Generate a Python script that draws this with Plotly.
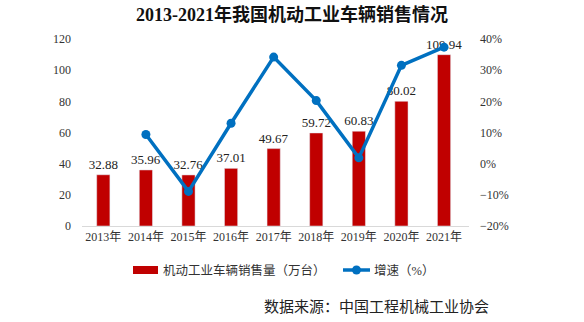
import plotly.graph_objects as go

years = ["2013年", "2014年", "2015年", "2016年", "2017年", "2018年", "2019年", "2020年", "2021年"]
sales = [32.88, 35.96, 32.76, 37.01, 49.67, 59.72, 60.83, 80.02, 109.94]
growth_years = ["2014年", "2015年", "2016年", "2017年", "2018年", "2019年", "2020年", "2021年"]
growth = [9.37, -8.90, 12.97, 34.20, 20.23, 1.86, 31.55, 37.39]
bar_name = "机动工业车辆销售量（万台）"
line_name = "增速（%）"

RED = "#C00000"
BLUE = "#0070C0"
serif = "Liberation Serif, Times New Roman, Noto Sans CJK SC, serif"

fig = go.Figure()
fig.add_trace(go.Bar(
    x=years, y=sales, name=bar_name,
    marker=dict(color=RED), width=0.31,
    text=[f"{v:.2f}" for v in sales], textposition="outside", constraintext="none",
    textfont=dict(family=serif, size=13, color="#222"), cliponaxis=False,
))
fig.add_trace(go.Scatter(
    x=growth_years, y=growth, name=line_name, yaxis="y2",
    mode="lines+markers", line=dict(color=BLUE, width=3.5),
    marker=dict(color=BLUE, size=9),
))

# plot area: x 82..469 px, y 39..226 px
def px(x):
    return (x - 82) / 387.0

def py(y):
    return (226 - y) / 187.0

shapes = [
    dict(type="rect", xref="paper", yref="paper", x0=px(133), x1=px(158), y0=py(274), y1=py(266),
         fillcolor=RED, line=dict(width=0)),
    dict(type="line", xref="paper", yref="paper", x0=px(343), x1=px(370), y0=py(270), y1=py(270),
         line=dict(color=BLUE, width=3.5)),
    dict(type="circle", xref="paper", yref="paper", x0=px(352), x1=px(361), y0=py(274.5), y1=py(265.5),
         fillcolor=BLUE, line=dict(width=0)),
]

annotations = [
    dict(text=bar_name, xref="paper", yref="paper", x=px(161), y=py(270), xanchor="left",
         yanchor="middle", showarrow=False, font=dict(family=serif, size=12.5, color="#333")),
    dict(text=line_name, xref="paper", yref="paper", x=px(372), y=py(270), xanchor="left",
         yanchor="middle", showarrow=False, font=dict(family=serif, size=12.5, color="#333")),
    dict(text="数据来源：中国工程机械工业协会", xref="paper", yref="paper",
         x=px(262), y=py(305), xanchor="left", yanchor="middle", showarrow=False,
         font=dict(family="Noto Sans CJK SC", size=15, color="#222")),
]

fig.update_layout(
    width=584, height=322,
    margin=dict(l=82, r=115, t=39, b=96, autoexpand=False),
    paper_bgcolor="white", plot_bgcolor="white",
    font=dict(family=serif, size=12, color="#333"),
    title=dict(text="<b>2013-2021年我国机动工业车辆销售情况</b>", x=0.5, xanchor="center",
               y=0.955, yanchor="middle", font=dict(family=serif, size=18, color="#111")),
    bargap=0.6,
    showlegend=False,
    xaxis=dict(showline=True, linecolor="#D9D9D9", linewidth=1, ticks="",
               tickfont=dict(family=serif, size=12, color="#333")),
    yaxis=dict(range=[0, 120], dtick=20, showgrid=False, zeroline=False, ticks="",
               ticklabelstandoff=10, tickfont=dict(family=serif, size=12, color="#333")),
    yaxis2=dict(range=[-20, 40], dtick=10, overlaying="y", side="right", showgrid=False,
                zeroline=False, ticksuffix="%", ticks="", ticklabelstandoff=10,
                tickfont=dict(family=serif, size=12, color="#333")),
    shapes=shapes,
    annotations=annotations,
)

fig.write_html("out.html")
